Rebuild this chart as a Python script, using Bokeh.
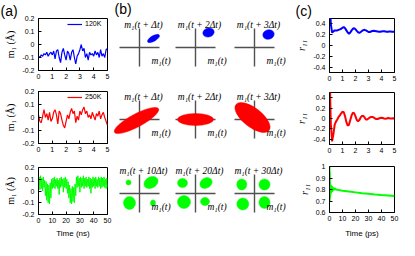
import math
from bokeh.plotting import figure
from bokeh.models import Range1d, FixedTicker, NumeralTickFormatter
from bokeh.layouts import row, column
from bokeh.embed import file_html
from bokeh.resources import INLINE
from bokeh.core.properties import value

SANS = "Liberation Sans"
SERIF = "Liberation Serif"
BLUE = "#0000ff"
RED = "#ff0000"
GREEN = "#00ff00"

# ---------------- data: panel (a) ----------------
t_a_ns = [i / 10 for i in range(51)]
m1_120K = [-0.09, -0.10, -0.08, -0.09, -0.07, -0.08, -0.06, -0.09, -0.07, -0.06,
           -0.08, -0.05, -0.11, -0.05, -0.04, -0.10, -0.14, -0.06, -0.03, -0.08,
           -0.12, -0.05, -0.07, -0.12, -0.06, -0.04, -0.10, -0.15, -0.09, -0.07,
           -0.04, 0.00, -0.05, -0.03, -0.10, -0.07, -0.12, -0.06, -0.08, -0.07,
           -0.09, -0.05, -0.08, -0.06, -0.10, -0.04, -0.09, -0.07, -0.10, -0.04, -0.03]
m1_250K = [0.02, -0.03, -0.04, 0.01, 0.06, 0.00, 0.03, -0.02, 0.04, -0.03,
           -0.01, 0.04, 0.06, 0.02, -0.05, 0.05, 0.03, -0.02, -0.06, -0.08,
           -0.03, 0.02, -0.01, 0.04, 0.07, 0.03, 0.05, -0.04, 0.01, -0.02,
           0.05, 0.02, 0.06, 0.08, 0.03, 0.05, 0.00, 0.02, -0.01, 0.04,
           0.01, -0.02, 0.03, 0.01, 0.05, -0.01, 0.02, 0.04, 0.00, -0.03, -0.06]
t_a3_ns = [i / 2 for i in range(101)]
m1_high = [0.05, 0.12, 0.01, 0.13, 0.02, 0.11, 0.00, 0.12, 0.03, 0.09,
           -0.04, 0.08, -0.08, 0.06, -0.10, 0.05, -0.11, 0.07, -0.06, 0.10,
           0.02, 0.11, 0.03, 0.12, 0.02, 0.10, 0.04, 0.11, 0.02, 0.09,
           -0.03, 0.11, 0.03, 0.12, 0.04, 0.10, -0.01, 0.11, 0.03, 0.12,
           0.02, 0.10, -0.02, 0.08, -0.06, 0.05, -0.10, 0.02, -0.11, 0.04,
           -0.09, 0.03, -0.10, 0.06, -0.04, 0.12, 0.03, 0.13, 0.04, 0.11,
           -0.01, 0.12, 0.03, 0.11, 0.04, 0.13, 0.02, 0.11, 0.04, 0.12,
           0.03, 0.10, 0.04, 0.12, 0.02, 0.11, -0.02, 0.10, 0.03, 0.12,
           0.04, 0.11, 0.02, 0.12, 0.04, 0.10, 0.03, 0.12, 0.04, 0.11,
           0.02, 0.12, 0.03, 0.11, 0.04, 0.12, 0.03, 0.10, 0.02, 0.11,
           0.03]
a_yticks = [-0.2, -0.1, 0, 0.1, 0.2]

# ---------------- data: panel (c) ----------------
t_c_ps = [i / 10 for i in range(51)]
r11_120K = [1.0, 0.40, 0.24, 0.26, 0.28, 0.28, 0.28, 0.29, 0.30, 0.31,
            0.33, 0.34, 0.32, 0.28, 0.24, 0.22, 0.24, 0.28, 0.31, 0.32,
            0.30, 0.27, 0.245, 0.235, 0.25, 0.27, 0.285, 0.29, 0.28, 0.265,
            0.25, 0.25, 0.26, 0.27, 0.275, 0.27, 0.265, 0.26, 0.255, 0.255,
            0.26, 0.265, 0.265, 0.26, 0.255, 0.255, 0.26, 0.26, 0.255, 0.255, 0.255]
r11_250K = [1.0, -0.10, -0.44, -0.30, -0.12, -0.06, -0.02, 0.03, 0.06, 0.10,
            0.13, 0.12, 0.04, -0.07, -0.14, -0.12, -0.03, 0.06, 0.11, 0.10,
            0.04, -0.03, -0.05, -0.03, 0.02, 0.05, 0.05, 0.02, -0.02, -0.02,
            0.00, 0.02, 0.03, 0.03, 0.02, 0.00, -0.01, -0.01, 0.00, 0.01,
            0.015, 0.01, 0.00, -0.005, 0.00, 0.01, 0.005, 0.00, 0.00, 0.005, 0.00]
t_c3_ps = [0, 0.1, 0.2, 0.3, 0.4, 0.5, 0.6, 0.8, 1.0, 1.2, 1.4, 1.6, 1.8, 2.0,
           2.3, 2.6, 3.0, 3.5, 4.0, 5, 7, 10, 15, 20, 25, 30, 35, 40, 45, 50]
r11_high = [1.0, 0.70, 0.95, 0.72, 0.86, 0.74, 0.84, 0.76, 0.84, 0.77, 0.83, 0.78, 0.83, 0.78,
            0.82, 0.79, 0.815, 0.795, 0.81, 0.80, 0.795, 0.79, 0.782, 0.775, 0.768, 0.763,
            0.757, 0.752, 0.748, 0.743]
c_yticks = [-0.4, -0.2, 0, 0.2, 0.4]
c3_yticks = [0.6, 0.7, 0.8, 0.9, 1.0]

# ---------------- data: panel (b) (ellipses of the m1 distributions) ----------------
b_lags = [["Δt", "2Δt", "3Δt"], ["Δt", "2Δt", "3Δt"], ["10Δt", "20Δt", "30Δt"]]
ell_row = [0, 0, 0, 1, 1, 1] + [2] * 12
ell_col = [0, 1, 2, 0, 1, 2] + [0] * 4 + [1] * 4 + [2] * 4
ell_dx = [14, 13, 14, -3, 0, -2,
          -11, 11.5, -10, 13.5,
          -13, 10.5, -11.5, 9.5,
          -12.7, 10, -11.7, 10]
ell_dy = [9, 15, 13, -1, 0, 2,
          11, 11, -9.5, -9.5,
          10.5, 10.5, -8.5, -8,
          9, 9, -10.5, -9]
ell_w = [13.5, 11.5, 11.5, 50, 36, 42,
         5, 15, 12, 5,
         10, 13, 13, 9,
         10, 11, 12, 11]
ell_h = [5.5, 9, 9.5, 13, 12, 19,
         5, 11, 13, 6,
         9, 10, 13, 8,
         11, 11, 12, 12]
ell_angle_deg = [30, 15, 15, 28, 0, -38,
                 0, 30, 0, 0,
                 0, 30, 0, 0,
                 0, 0, 0, 0]
row_colors = [BLUE, RED, GREEN]

# ---------------- helpers ----------------
def panel(width, height, top, bottom, left, right, xr, yr, xticks, yticks,
          x, y, color, lw, ylabel, ylabel_style, legend=None, xlabel=None,
          letter=None, letter_dx=0):
    p = figure(width=width, height=height, x_range=Range1d(*xr), y_range=Range1d(*yr),
               output_backend="svg", toolbar_location=None,
               min_border_top=top, min_border_bottom=bottom,
               min_border_left=left, min_border_right=right)
    p.grid.visible = False
    p.outline_line_color = "black"
    p.outline_line_width = 1
    p.background_fill_color = "white"
    p.border_fill_color = "white"
    kw = {}
    if legend:
        kw["legend_label"] = legend
    p.line(x, y, line_color=color, line_width=lw, **kw)
    p.xaxis.ticker = FixedTicker(ticks=xticks)
    p.yaxis.ticker = FixedTicker(ticks=yticks)
    p.xaxis.formatter = NumeralTickFormatter(format="0.[0]")
    p.yaxis.formatter = NumeralTickFormatter(format="0.[0]")
    for ax in p.axis:
        ax.major_tick_in = 3
        ax.major_tick_out = 0
        ax.minor_tick_line_color = None
        ax.axis_line_color = "black"
        ax.major_tick_line_color = "black"
        ax.major_label_text_font = SANS
        ax.major_label_text_font_size = "7px"
        ax.major_label_text_color = "black"
        ax.major_label_standoff = 3
    p.yaxis.major_label_standoff = 4
    p.yaxis.axis_label = ylabel
    p.yaxis.axis_label_text_font = SERIF
    p.yaxis.axis_label_text_font_size = "10px"
    p.yaxis.axis_label_text_font_style = ylabel_style
    p.yaxis.axis_label_text_color = "black"
    p.yaxis.axis_label_standoff = 3
    if xlabel:
        p.xaxis.axis_label = xlabel
        p.xaxis.axis_label_text_font = SANS
        p.xaxis.axis_label_text_font_size = "8px"
        p.xaxis.axis_label_text_font_style = "normal"
        p.xaxis.axis_label_text_color = "black"
        p.xaxis.axis_label_standoff = 3
    if legend:
        lg = p.legend[0]
        lg.location = "top_right"
        lg.label_text_font = SANS
        lg.label_text_font_size = "7px"
        lg.label_text_color = "black"
        lg.label_height = 6
        lg.glyph_height = 6
        lg.glyph_width = 15
        lg.padding = 1
        lg.margin = 2
        lg.spacing = 0
        lg.label_standoff = 3
        lg.border_line_color = None
        lg.background_fill_alpha = 0
    if letter:
        p.title.text = letter
        p.title.align = "left"
        p.title.offset = letter_dx
        p.title.standoff = 0
        p.title.text_font = SANS
        p.title.text_font_size = "14px"
        p.title.text_font_style = "normal"
        p.title.text_color = "black"
    return p

# ---------------- panel (a) ----------------
A_W, A_L, A_R = 113, 38, 6
a1 = panel(A_W, 87, 17, 17, A_L, A_R, (0, 5), (-0.2, 0.2), [0, 1, 2, 3, 4, 5], a_yticks,
           t_a_ns, m1_120K, BLUE, 1.2, "m₁ (Å)", "normal", legend="120K",
           letter="(a)", letter_dx=-38)
a2 = panel(A_W, 75, 4, 19, A_L, A_R, (0, 5), (-0.2, 0.2), [0, 1, 2, 3, 4, 5], a_yticks,
           t_a_ns, m1_250K, RED, 1.2, "m₁ (Å)", "normal", legend="250K")
a3 = panel(A_W, 78, 5, 22, A_L, A_R, (0, 50), (-0.2, 0.2), [0, 10, 20, 30, 40, 50], a_yticks,
           t_a3_ns, m1_high, GREEN, 1.0, "m₁ (Å)", "normal", xlabel="Time (ns)")

# ---------------- panel (c) ----------------
C_W, C_L, C_R = 111, 41, 5
c1 = panel(C_W, 87, 18, 15, C_L, C_R, (0, 5), (-0.5, 0.5), [0, 1, 2, 3, 4, 5], c_yticks,
           t_c_ps, r11_120K, BLUE, 2, "r₁₁", "italic", letter="(c)", letter_dx=-34)
c2 = panel(C_W, 75, 5, 18, C_L, C_R, (0, 5), (-0.5, 0.5), [0, 1, 2, 3, 4, 5], c_yticks,
           t_c_ps, r11_250K, RED, 2, "r₁₁", "italic")
c3 = panel(C_W, 78, 4, 25, C_L, C_R, (0, 50), (0.6, 1.0), [0, 10, 20, 30, 40, 50], c3_yticks,
           t_c3_ps, r11_high, GREEN, 2, "r₁₁", "italic", xlabel="Time (ps)")
c3.xaxis.axis_label_standoff = 5

# ---------------- panel (b) ----------------
B_X0, B_X1, B_Y0, B_Y1 = 121, 296, 8, 248
pB = figure(width=B_X1 - B_X0, height=B_Y1 - B_Y0,
            x_range=Range1d(B_X0, B_X1), y_range=Range1d(-B_Y1, -B_Y0),
            output_backend="svg", toolbar_location=None, min_border=0,
            x_axis_location=None, y_axis_location=None)
pB.grid.visible = False
pB.outline_line_color = None
pB.background_fill_color = "white"
pB.border_fill_color = "white"

COL_CX = [147, 203, 262]
ROW_CY = [55, 127, 201]
HALF_H, HALF_V = 20, 19

sx0, sy0, sx1, sy1 = [], [], [], []
top_x, top_y, top_t, bot_x, bot_y = [], [], [], [], []
for r in range(3):
    for c in range(3):
        cx, cy = COL_CX[c], -ROW_CY[r]
        sx0 += [cx, cx - HALF_H]
        sy0 += [cy + HALF_V, cy]
        sx1 += [cx, cx + HALF_H]
        sy1 += [cy - HALF_V, cy]
        top_x.append(cx + 4)
        top_y.append(cy + 23)
        top_t.append("m₁(t + " + b_lags[r][c] + ")")
        bot_x.append(cx + 12)
        bot_y.append(cy - 13)

pB.segment(sx0, sy0, sx1, sy1, line_color="#505050", line_width=1.4)

ex = [COL_CX[c] + d for c, d in zip(ell_col, ell_dx)]
ey = [-ROW_CY[r] + d for r, d in zip(ell_row, ell_dy)]
ecol = [row_colors[r] for r in ell_row]
pB.ellipse(x=ex, y=ey, width=ell_w, height=ell_h,
           angle=[math.radians(a) for a in ell_angle_deg],
           fill_color=ecol, line_color=ecol, line_width=0.5)

pB.text(x=top_x, y=top_y, text=top_t, text_font=value(SERIF), text_font_style="italic",
        text_font_size="9.5px", text_align="center", text_baseline="alphabetic",
        text_color="black")
pB.text(x=bot_x, y=bot_y, text=["m₁(t)"] * 9, text_font=value(SERIF), text_font_style="italic",
        text_font_size="9.5px", text_align="left", text_baseline="alphabetic",
        text_color="black")
pB.text(x=[B_X0 + 1], y=[-B_Y0], text=["(b)"], text_font=value(SANS), text_font_size="14px",
        text_align="left", text_baseline="top", text_color="black")

layout = row(column(a1, a2, a3), pB, column(c1, c2, c3))

with open("out.html", "w") as f:
    f.write(file_html(layout, INLINE))
